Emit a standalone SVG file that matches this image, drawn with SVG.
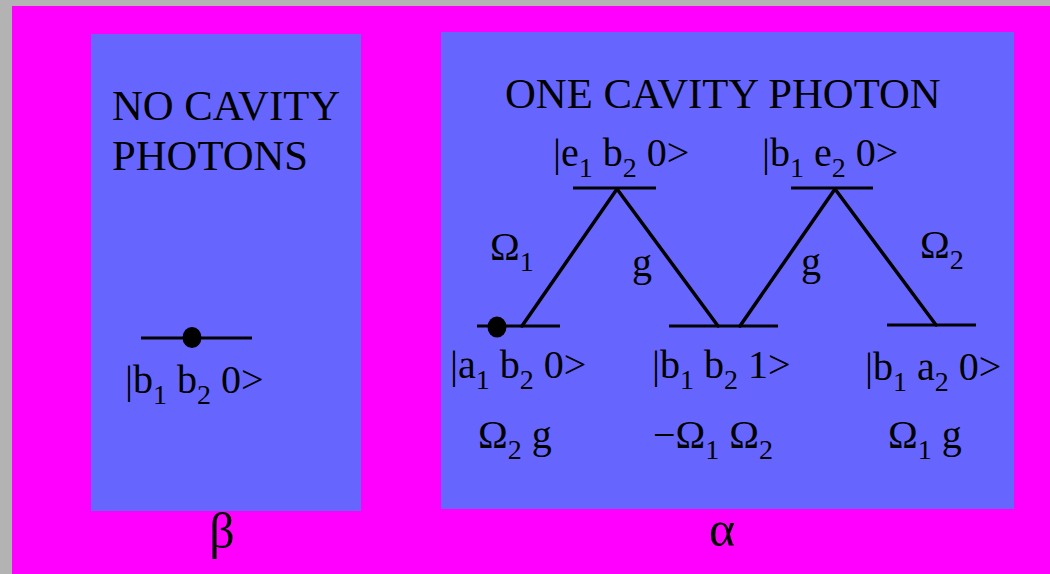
<svg xmlns="http://www.w3.org/2000/svg" width="1050" height="574" viewBox="0 0 1050 574">
<style>
text{font-family:"Liberation Serif","Times New Roman",serif;fill:#000}
.t{font-size:42.7px}
.l{font-size:40px}
.s{font-size:28px}
.g{font-size:50px}
.lev{stroke:#000;stroke-width:3;fill:none}
.con{stroke:#000;stroke-width:3.5;fill:none;stroke-linecap:round}
</style>
<rect x="0" y="0" width="1050" height="574" fill="#B3B3B3"/>
<rect x="12" y="6" width="1038" height="568" fill="#FF00FF"/>
<g id="panel-beta">
<rect x="91" y="34" width="270" height="477" fill="#6666FF"/>
<text class="t" x="112" y="120">NO CAVITY</text>
<text class="t" x="112" y="170">PHOTONS</text>
<text class="g" x="222" y="548" text-anchor="middle">β</text>
</g>
<g id="panel-alpha">
<rect x="441" y="32" width="573" height="477" fill="#6666FF"/>
<text class="t" x="505" y="108">ONE CAVITY PHOTON</text>
<text class="g" x="722" y="546" text-anchor="middle">α</text>
</g>
<g id="node-b1b20">
<line class="lev" x1="141" y1="338" x2="252" y2="338"/>
<ellipse cx="192" cy="337.5" rx="9.5" ry="10.5"/>
<text class="l" x="125" y="393">|b<tspan class="s" dy="11">1</tspan><tspan dy="-11"> b</tspan><tspan class="s" dy="11">2</tspan><tspan dy="-11"> 0&gt;</tspan></text>
</g>
<g id="node-e1b20">
<line class="lev" x1="573" y1="188" x2="656" y2="188"/>
<text class="l" x="553" y="166">|e<tspan class="s" dy="11">1</tspan><tspan dy="-11"> b</tspan><tspan class="s" dy="11">2</tspan><tspan dy="-11"> 0&gt;</tspan></text>
</g>
<g id="node-b1e20">
<line class="lev" x1="791" y1="188" x2="873" y2="188"/>
<text class="l" x="762" y="166">|b<tspan class="s" dy="11">1</tspan><tspan dy="-11"> e</tspan><tspan class="s" dy="11">2</tspan><tspan dy="-11"> 0&gt;</tspan></text>
</g>
<g id="node-a1b20">
<line class="lev" x1="477" y1="326" x2="560" y2="326"/>
<ellipse cx="497" cy="327" rx="9.5" ry="10.5"/>
<text class="l" x="450" y="378">|a<tspan class="s" dy="11">1</tspan><tspan dy="-11"> b</tspan><tspan class="s" dy="11">2</tspan><tspan dy="-11"> 0&gt;</tspan></text>
<text class="l" x="478" y="448">Ω<tspan class="s" dy="11">2</tspan><tspan dy="-11"> g</tspan></text>
</g>
<g id="node-b1b21">
<line class="lev" x1="669" y1="326" x2="778" y2="326"/>
<text class="l" x="652" y="378">|b<tspan class="s" dy="11">1</tspan><tspan dy="-11"> b</tspan><tspan class="s" dy="11">2</tspan><tspan dy="-11"> 1&gt;</tspan></text>
<text class="l" x="653" y="448">−Ω<tspan class="s" dy="11">1</tspan><tspan dy="-11"> Ω</tspan><tspan class="s" dy="11">2</tspan></text>
</g>
<g id="node-b1a20">
<line class="lev" x1="887" y1="325" x2="976" y2="325"/>
<text class="l" x="865" y="380">|b<tspan class="s" dy="11">1</tspan><tspan dy="-11"> a</tspan><tspan class="s" dy="11">2</tspan><tspan dy="-11"> 0&gt;</tspan></text>
<text class="l" x="888" y="448">Ω<tspan class="s" dy="11">1</tspan><tspan dy="-11"> g</tspan></text>
</g>
<g id="connectors">
<line class="con" x1="522" y1="326" x2="617" y2="189"/>
<line class="con" x1="617" y1="189" x2="718" y2="326"/>
<line class="con" x1="740" y1="326" x2="835" y2="189"/>
<line class="con" x1="835" y1="189" x2="936" y2="325"/>
<text class="l" x="490" y="260">Ω<tspan class="s" dy="11">1</tspan></text>
<text class="l" x="632" y="276">g</text>
<text class="l" x="801" y="275">g</text>
<text class="l" x="920" y="258">Ω<tspan class="s" dy="11">2</tspan></text>
</g>
</svg>
